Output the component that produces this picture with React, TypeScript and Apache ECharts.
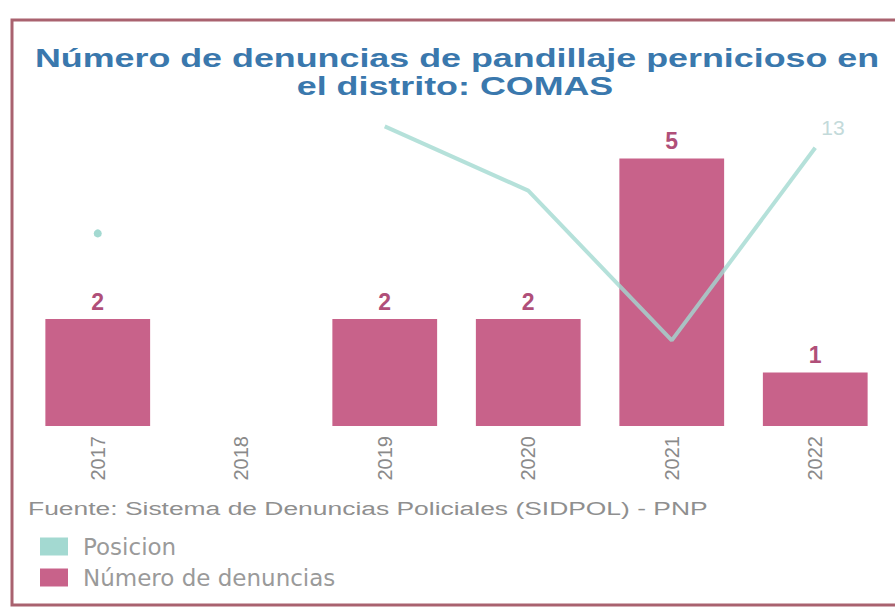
import React, { useEffect, useRef } from "react";
import * as echarts from "echarts";

const years = ["2017", "2018", "2019", "2020", "2021", "2022"];
const denuncias: (number | null)[] = [2, null, 2, 2, 5, 1];
const posicion: (number | null)[] = [9, null, 14, 11, 4, 13];
const titleLines = ["Número de denuncias de pandillaje pernicioso en", "el distrito: COMAS"];
const sourceText = "Fuente: Sistema de Denuncias Policiales (SIDPOL) - PNP";
const seriesNames = ["Posicion", "Número de denuncias"];

const BAR = "#c8628a";
const LINE = "#a3d9d1";

function measure(text: string, font: string): number {
  const c = document.createElement("canvas").getContext("2d");
  if (!c) return 1;
  c.font = font;
  return c.measureText(text).width || 1;
}

export default function App() {
  const ref = useRef<HTMLDivElement>(null);
  useEffect(() => {
    if (!ref.current) return;
    const chart = echarts.init(ref.current, null, { renderer: "svg" });
    const titleFont = "bold 26px 'Liberation Sans'";
    const titleScale = 845 / measure(titleLines[0], titleFont);
    const srcFont = "19px 'Liberation Sans'";
    const srcScale = 680 / measure(sourceText, srcFont);
    const lineData = posicion.map((v, i) => {
      if (v == null) return "-";
      const prev = i > 0 ? posicion[i - 1] : null;
      const next = i < posicion.length - 1 ? posicion[i + 1] : null;
      const isolated = prev == null && next == null;
      const item: any = { value: v };
      if (isolated) {
        item.symbol = "circle";
        item.symbolSize = 8;
      }
      return item;
    });
    chart.setOption({
      animation: false,
      backgroundColor: "#ffffff",
      graphic: [
        {
          type: "rect",
          shape: { x: 12, y: 20, width: 900, height: 585 },
          style: { fill: "none", stroke: "#a9626f", lineWidth: 3 },
          z: 100,
        },
        {
          type: "text",
          x: 457,
          y: 58,
          scaleX: titleScale,
          style: {
            text: titleLines[0],
            fill: "#3a78ad",
            font: titleFont,
            textAlign: "center",
            textVerticalAlign: "middle",
          },
        },
        {
          type: "text",
          x: 455,
          y: 86,
          scaleX: titleScale,
          style: {
            text: titleLines[1],
            fill: "#3a78ad",
            font: titleFont,
            textAlign: "center",
            textVerticalAlign: "middle",
          },
        },
        {
          type: "text",
          x: 28,
          y: 508,
          scaleX: srcScale,
          style: {
            text: sourceText,
            fill: "#8f8f8f",
            font: srcFont,
            textAlign: "left",
            textVerticalAlign: "middle",
          },
        },
      ],
      legend: {
        orient: "vertical",
        left: 35,
        top: 530,
        itemWidth: 28,
        itemHeight: 18,
        itemGap: 8,
        data: seriesNames.map((n) => ({ name: n, icon: "rect" })),
        textStyle: { color: "#9a9a9a", fontSize: 23, fontFamily: "DejaVu Sans", padding: [0, 0, 0, 10] },
      },
      grid: { left: 26, right: 8, top: 105, bottom: 184, containLabel: false },
      xAxis: {
        type: "category",
        data: years,
        axisLine: { show: false },
        axisTick: { show: false },
        axisLabel: {
          rotate: 90,
          color: "#8a8a8a",
          fontSize: 20,
          fontFamily: "Liberation Sans",
          margin: 10,
        },
      },
      yAxis: [
        { type: "value", min: 0, max: 6, show: false, splitLine: { show: false } },
        { type: "value", min: 0, max: 15, show: false, splitLine: { show: false } },
      ],
      series: [
        {
          name: seriesNames[1],
          type: "bar",
          yAxisIndex: 0,
          barCategoryGap: "27%",
          data: denuncias.map((v) => (v == null ? "-" : v)),
          itemStyle: { color: BAR },
          label: {
            show: true,
            position: "top",
            distance: 6,
            color: "#b04f79",
            fontSize: 23,
            fontWeight: "bold",
            fontFamily: "Liberation Sans",
          },
        },
        {
          name: seriesNames[0],
          type: "line",
          yAxisIndex: 1,
          data: lineData,
          symbol: "none",
          connectNulls: false,
          lineStyle: { color: LINE, width: 4, opacity: 0.8 },
          itemStyle: { color: LINE },
          endLabel: {
            show: true,
            formatter: "{c}",
            distance: 6,
            offset: [0, -20],
            color: "#c3dada",
            fontSize: 21,
            fontFamily: "Liberation Sans",
          },
          z: 5,
        },
      ],
    });
    return () => chart.dispose();
  }, []);
  return <div ref={ref} style={{ width: 895, height: 610, position: "absolute", left: 0, top: 0 }} />;
}
